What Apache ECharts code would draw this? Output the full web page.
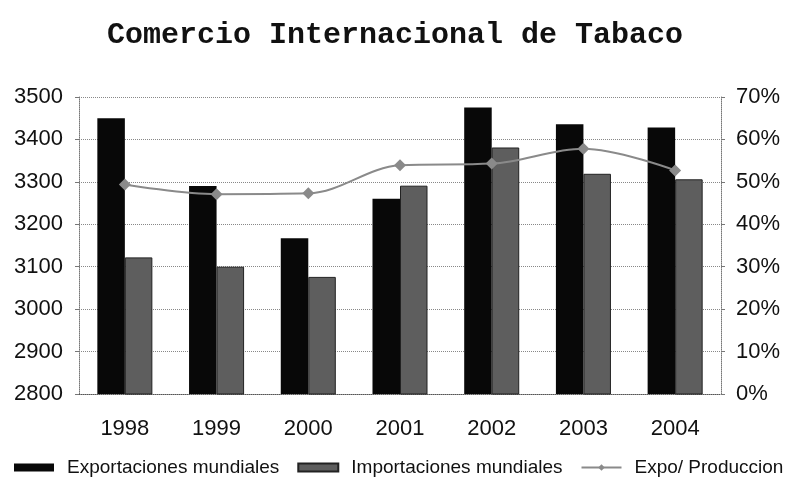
<!DOCTYPE html>
<html>
<head>
<meta charset="utf-8">
<script src="https://cdn.jsdelivr.net/npm/echarts@6/dist/echarts.min.js"></script>
<style>
  html, body { margin: 0; padding: 0; background: #fff; }
  #main { width: 790px; height: 486px; }
</style>
</head>
<body>
<div id="main"></div>
<script>
var years = ['1998', '1999', '2000', '2001', '2002', '2003', '2004'];
var exportaciones = [3450, 3290, 3167, 3260, 3475, 3436, 3428];
var importaciones = [3122, 3100, 3076, 3291, 3381, 3319, 3306];
var expoProduccion = [49.4, 47.1, 47.3, 53.9, 54.3, 57.8, 52.7];

var myChart = echarts.init(document.getElementById('main'));

var axisFont = { fontFamily: 'Liberation Sans', fontSize: 22, color: '#111' };

var option = {
  animation: false,
  backgroundColor: '#fff',
  title: {
    text: 'Comercio Internacional de Tabaco',
    left: 'center',
    top: 15,
    textStyle: {
      fontFamily: 'Liberation Mono',
      fontWeight: 'bold',
      fontSize: 30,
      color: '#111'
    }
  },
  legend: {
    left: 14,
    top: 458,
    padding: 0,
    itemGap: 18,
    itemWidth: 40,
    itemHeight: 8,
    textStyle: {
      fontFamily: 'Liberation Sans',
      fontSize: 19,
      color: '#111',
      padding: [0, 0, 0, 8]
    },
    data: [
      { name: 'Exportaciones mundiales', icon: 'rect' },
      { name: 'Importaciones mundiales', icon: 'rect' },
      { name: 'Expo/ Produccion' }
    ]
  },
  grid: {
    left: 79,
    right: 69,
    top: 97,
    bottom: 92
  },
  xAxis: {
    type: 'category',
    data: years,
    axisLine: { lineStyle: { color: '#555', type: 'dotted' } },
    axisTick: { length: 5, lineStyle: { color: '#555' } },
    axisLabel: Object.assign({ margin: 24 }, axisFont)
  },
  yAxis: [
    {
      type: 'value',
      min: 2800,
      max: 3500,
      interval: 100,
      axisLine: { show: true, lineStyle: { color: '#777', type: 'dotted' } },
      axisTick: { show: true, length: 4, lineStyle: { color: '#777' } },
      splitLine: { lineStyle: { color: '#888', type: 'dotted' } },
      axisLabel: Object.assign({ margin: 16, formatter: function (v) { return String(v); } }, axisFont)
    },
    {
      type: 'value',
      min: 0,
      max: 70,
      interval: 10,
      position: 'right',
      axisLine: { show: true, lineStyle: { color: '#777', type: 'dotted' } },
      axisTick: { show: true, length: 4, lineStyle: { color: '#777' } },
      splitLine: { show: false },
      axisLabel: Object.assign({ margin: 15, formatter: '{value}%' }, axisFont)
    }
  ],
  series: [
    {
      name: 'Exportaciones mundiales',
      type: 'bar',
      data: exportaciones,
      barGap: 0,
      barCategoryGap: '40%',
      itemStyle: { color: '#080808' }
    },
    {
      name: 'Importaciones mundiales',
      type: 'bar',
      data: importaciones,
      barGap: 0,
      barCategoryGap: '40%',
      itemStyle: { color: '#5e5e5e', borderColor: '#222', borderWidth: 1 }
    },
    {
      name: 'Expo/ Produccion',
      type: 'line',
      yAxisIndex: 1,
      data: expoProduccion,
      smooth: 0.35,
      symbol: 'diamond',
      symbolSize: 12,
      lineStyle: { color: '#8a8a8a', width: 2 },
      itemStyle: { color: '#8a8a8a' },
      z: 5
    }
  ]
};

myChart.setOption(option);
</script>
</body>
</html>
